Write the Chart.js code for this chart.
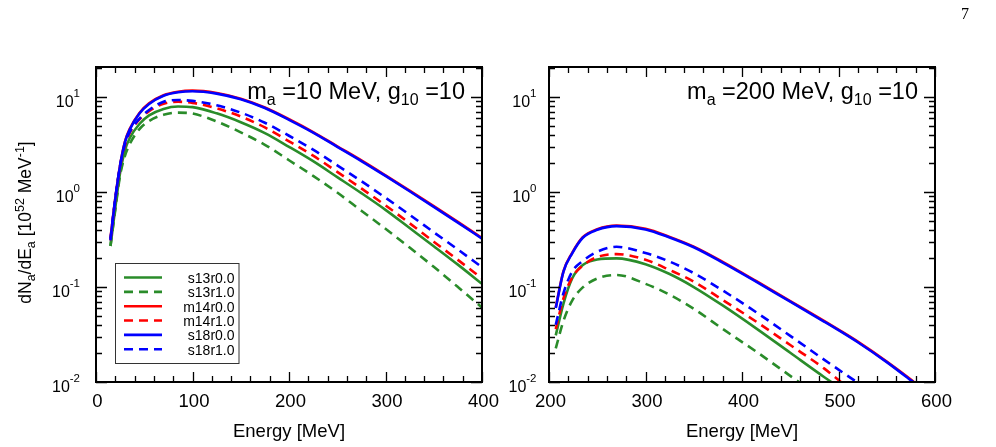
<!DOCTYPE html>
<html>
<head>
<meta charset="utf-8">
<script src="https://cdn.jsdelivr.net/npm/chart.js@4.4.0/dist/chart.umd.min.js"></script>
<style>
  html, body { margin: 0; padding: 0; background: #fff; }
  #wrap { position: relative; width: 996px; height: 447px; overflow: hidden; }
  #wrap canvas { position: absolute; left: 0; top: 0; }
  #pageNum { position: absolute; left: 961px; top: 5px; font-family: "Liberation Serif", serif; font-size: 16px; color: #000; }
</style>
</head>
<body>
<div id="wrap">
  <canvas id="leftPanel" width="996" height="447"></canvas>
  <canvas id="rightPanel" width="996" height="447"></canvas>
  <div id="pageNum">7</div>
</div>
<script>
// labels / colours of the six models
const modelLabels = ["s13r0.0", "s13r1.0", "m14r0.0", "m14r1.0", "s18r0.0", "s18r1.0"];
const modelColors = ["#2a8c2a", "#2a8c2a", "#ff0000", "#ff0000", "#0000ff", "#0000ff"];
const modelDashed = [false, true, false, true, false, true];

// left panel, m_a = 10 MeV  (dN/dE in 10^52 MeV^-1)
const leftEnergy = [15, 20, 25, 30, 35, 45, 55, 70, 85, 100, 125, 150, 175, 200, 225, 250, 275, 300, 325, 350, 375, 400];
const leftS13r00 = [0.27, 0.68, 1.6, 2.75, 3.7, 5.2, 6.4, 7.5, 7.95, 7.82, 6.73, 5.43, 4.17, 2.99, 2.11, 1.435, 0.973, 0.649, 0.418, 0.269, 0.172, 0.108];
const leftS13r10 = [0.27, 0.65, 1.5, 2.4, 3.2, 4.6, 5.6, 6.5, 6.85, 6.7, 5.53, 4.25, 3.14, 2.16, 1.48, 0.987, 0.635, 0.41, 0.26, 0.163, 0.1, 0.0607];
const leftM14r00 = [0.325, 0.86, 1.93, 3.4, 4.62, 6.8, 8.58, 10.45, 11.37, 11.67, 11.01, 9.59, 7.76, 5.84, 4.28, 3.03, 2.15, 1.497, 1.034, 0.71, 0.484, 0.328];
const leftM14r10 = [0.31, 0.84, 1.85, 3.1, 4.2, 5.8, 7.1, 8.5, 8.9, 8.68, 7.6, 6.24, 4.78, 3.42, 2.41, 1.63, 1.09, 0.723, 0.469, 0.3, 0.193, 0.123];
const leftS18r00 = [0.32, 0.85, 1.9, 3.35, 4.55, 6.7, 8.45, 10.3, 11.2, 11.5, 10.85, 9.45, 7.65, 5.75, 4.22, 2.99, 2.116, 1.475, 1.019, 0.699, 0.477, 0.323];
const leftS18r10 = [0.31, 0.85, 1.9, 3.2, 4.3, 5.9, 7.3, 8.9, 9.3, 9.1, 8.19, 6.85, 5.36, 3.91, 2.79, 1.91, 1.3, 0.87, 0.576, 0.377, 0.248, 0.162];

// right panel, m_a = 200 MeV
const rightEnergy = [207, 215, 224, 235, 250, 270, 300, 325, 350, 380, 415, 450, 485, 500, 520, 550, 575, 590];
const rightS13r00 = [0.031, 0.067, 0.123, 0.17, 0.195, 0.2, 0.174, 0.137, 0.1, 0.064, 0.0365, 0.0203, 0.0113, 0.0089, null, null, null, null];
const rightS13r10 = [0.0226, 0.044, 0.072, 0.099, 0.123, 0.134, 0.108, 0.083, 0.059, 0.0362, 0.0208, 0.0116, 0.0064, null, null, null, null, null];
const rightM14r00 = [0.061, 0.147, 0.229, 0.335, 0.406, 0.444, 0.41, 0.337, 0.266, 0.184, 0.115, 0.071, 0.044, 0.0356, 0.0266, 0.0164, 0.0106, 0.008];
const rightM14r10 = [0.036, 0.076, 0.126, 0.168, 0.207, 0.222, 0.194, 0.151, 0.114, 0.073, 0.043, 0.0245, 0.0139, 0.0105, 0.0072, null, null, null];
const rightS18r00 = [0.06, 0.145, 0.226, 0.33, 0.4, 0.437, 0.404, 0.332, 0.262, 0.181, 0.1135, 0.07, 0.0433, 0.0351, 0.0262, 0.0162, 0.0104, 0.0079];
const rightS18r10 = [0.04, 0.086, 0.145, 0.188, 0.235, 0.265, 0.228, 0.185, 0.14, 0.092, 0.054, 0.0306, 0.0172, 0.0135, 0.0098, 0.0058, null, null];

const yTickExps = [-2, -1, 0, 1];
const FONT = '"Liberation Sans", Arial, sans-serif';

// text with sub/superscripts: parts = [[text, ""|"sub"|"sup"], ...]
function drawRich(ctx, parts, x, y, size, align, small, supRise) {
  small = small || size * 0.7;
  supRise = supRise || size * 0.42;
  let total = 0;
  const widths = parts.map(([t, k]) => {
    ctx.font = (k ? small : size) + "px " + FONT;
    const w = ctx.measureText(t).width;
    total += w;
    return w;
  });
  let cx = align === "right" ? x - total : align === "center" ? x - total / 2 : x;
  ctx.textAlign = "left";
  parts.forEach(([t, k], i) => {
    ctx.font = (k ? small : size) + "px " + FONT;
    const dy = k === "sub" ? size * 0.24 : k === "sup" ? -supRise : 0;
    ctx.fillText(t, cx, y + dy);
    cx += widths[i];
  });
}

// frame with inward ticks, tick labels, titles, legend
const framePlugin = {
  id: "frame",
  afterDatasetsDraw(chart, args, opts) {
    const { ctx, chartArea: a, scales } = chart;
    const x = scales.x, y = scales.y;
    ctx.save();
    ctx.fillStyle = "#000";
    ctx.strokeStyle = "#000";
    ctx.lineWidth = 1.3;
    ctx.beginPath();
    for (let v = x.min; v <= x.max + 1e-6; v += 20) {
      const px = Math.round(x.getPixelForValue(v)) + 0.5;
      const len = v % 100 === 0 ? 10 : 6;
      ctx.moveTo(px, a.bottom); ctx.lineTo(px, a.bottom - len);
      ctx.moveTo(px, a.top); ctx.lineTo(px, a.top + len);
    }
    for (let e = -2; e <= 1; e++) {
      for (let m = 1; m <= 9; m++) {
        const v = m * Math.pow(10, e);
        if (v > y.max) break;
        const py = Math.round(y.getPixelForValue(v)) + 0.5;
        const len = m === 1 ? 11 : 6;
        ctx.moveTo(a.left, py); ctx.lineTo(a.left + len, py);
        ctx.moveTo(a.right, py); ctx.lineTo(a.right - len, py);
      }
    }
    ctx.stroke();
    ctx.lineWidth = 2;
    ctx.strokeRect(a.left, a.top, a.right - a.left, a.bottom - a.top);

    // x tick labels
    ctx.font = "18.5px " + FONT;
    ctx.textAlign = "center";
    ctx.textBaseline = "alphabetic";
    for (let v = x.min; v <= x.max + 1e-6; v += 100) {
      ctx.fillText(String(v), x.getPixelForValue(v) + 1.5, a.bottom + 25);
    }
    ctx.fillText("Energy [MeV]", (a.left + a.right) / 2, a.bottom + 55);

    // y tick labels 10^n
    yTickExps.forEach((n) => {
      const py = y.getPixelForValue(Math.pow(10, n));
      drawRich(ctx, [["10", ""], [String(n), "sup"]], a.left - opts.labelGap, py + 9.5, 16, "right", 11.5, 9.5);
    });

    // y title
    if (opts.yTitle) {
      ctx.save();
      ctx.translate(31, (a.top + a.bottom) / 2 - 2);
      ctx.rotate(-Math.PI / 2);
      drawRich(ctx, [["dN", ""], ["a", "sub"], ["/dE", ""], ["a", "sub"], [" [10", ""], ["52", "sup"], [" MeV", ""], ["-1", "sup"], ["]", ""]], 0, 0, 17.5, "center", 12.5, 7.5);
      ctx.restore();
    }

    // annotation
    drawRich(ctx, opts.note, opts.noteX, a.top + 32, 23.5, "right", 16, 9);

    // legend box
    if (opts.legend) {
      const lx = 115.5, ly = 263.5, lw = 123.5, lh = 100;
      ctx.lineWidth = 1;
      ctx.strokeStyle = "#333";
      ctx.strokeRect(lx, ly, lw, lh);
      chart.data.datasets.forEach((ds, i) => {
        const ry = 277.5 + i * 14.35;
        ctx.beginPath();
        ctx.strokeStyle = ds.borderColor;
        ctx.lineWidth = ds.borderWidth;
        ctx.setLineDash(ds.borderDash || []);
        ctx.moveTo(124, ry);
        ctx.lineTo(162, ry);
        ctx.stroke();
        ctx.setLineDash([]);
        ctx.font = "14px " + FONT;
        ctx.textAlign = "right";
        ctx.fillStyle = "#000";
        ctx.fillText(ds.label, 234.5, ry + 5.3);
      });
    }
    ctx.restore();
  },
};

function buildDatasets(energy, series) {
  return series.map((vals, i) => ({
    label: modelLabels[i],
    data: energy.map((e, j) => ({ x: e, y: vals[j] })).filter((p) => p.y !== null),
    borderColor: modelColors[i],
    borderWidth: 2.6,
    borderDash: modelDashed[i] ? [9, 6] : [],
    pointRadius: 0,
    fill: false,
    cubicInterpolationMode: "monotone",
    order: -i, // later models drawn on top
    clip: 1,
  }));
}

function makePanel(id, energy, series, xMin, xMax, padding, frameOpts) {
  const ctx = document.getElementById(id).getContext("2d");
  return new Chart(ctx, {
    type: "line",
    data: { datasets: buildDatasets(energy, series) },
    options: {
      responsive: false,
      animation: false,
      devicePixelRatio: 1,
      layout: { padding: padding },
      plugins: {
        legend: { display: false },
        tooltip: { enabled: false },
        frame: frameOpts,
      },
      scales: {
        x: { type: "linear", min: xMin, max: xMax, display: false },
        y: { type: "logarithmic", min: 0.01, max: 20.7, display: false },
      },
    },
    plugins: [framePlugin],
  });
}

makePanel(
  "leftPanel",
  leftEnergy,
  [leftS13r00, leftS13r10, leftM14r00, leftM14r10, leftS18r00, leftS18r10],
  0, 400,
  { left: 96, right: 514, top: 67, bottom: 65 },
  {
    labelGap: 16,
    yTitle: true,
    legend: true,
    noteX: 465,
    note: [["m", ""], ["a", "sub"], [" =10 MeV, g", ""], ["10", "sub"], [" =10", ""]],
  }
);

makePanel(
  "rightPanel",
  rightEnergy,
  [rightS13r00, rightS13r10, rightM14r00, rightM14r10, rightS18r00, rightS18r10],
  200, 600,
  { left: 549, right: 61, top: 67, bottom: 65 },
  {
    labelGap: 12.5,
    yTitle: false,
    legend: false,
    noteX: 918,
    note: [["m", ""], ["a", "sub"], [" =200 MeV, g", ""], ["10", "sub"], [" =10", ""]],
  }
);
</script>
</body>
</html>
